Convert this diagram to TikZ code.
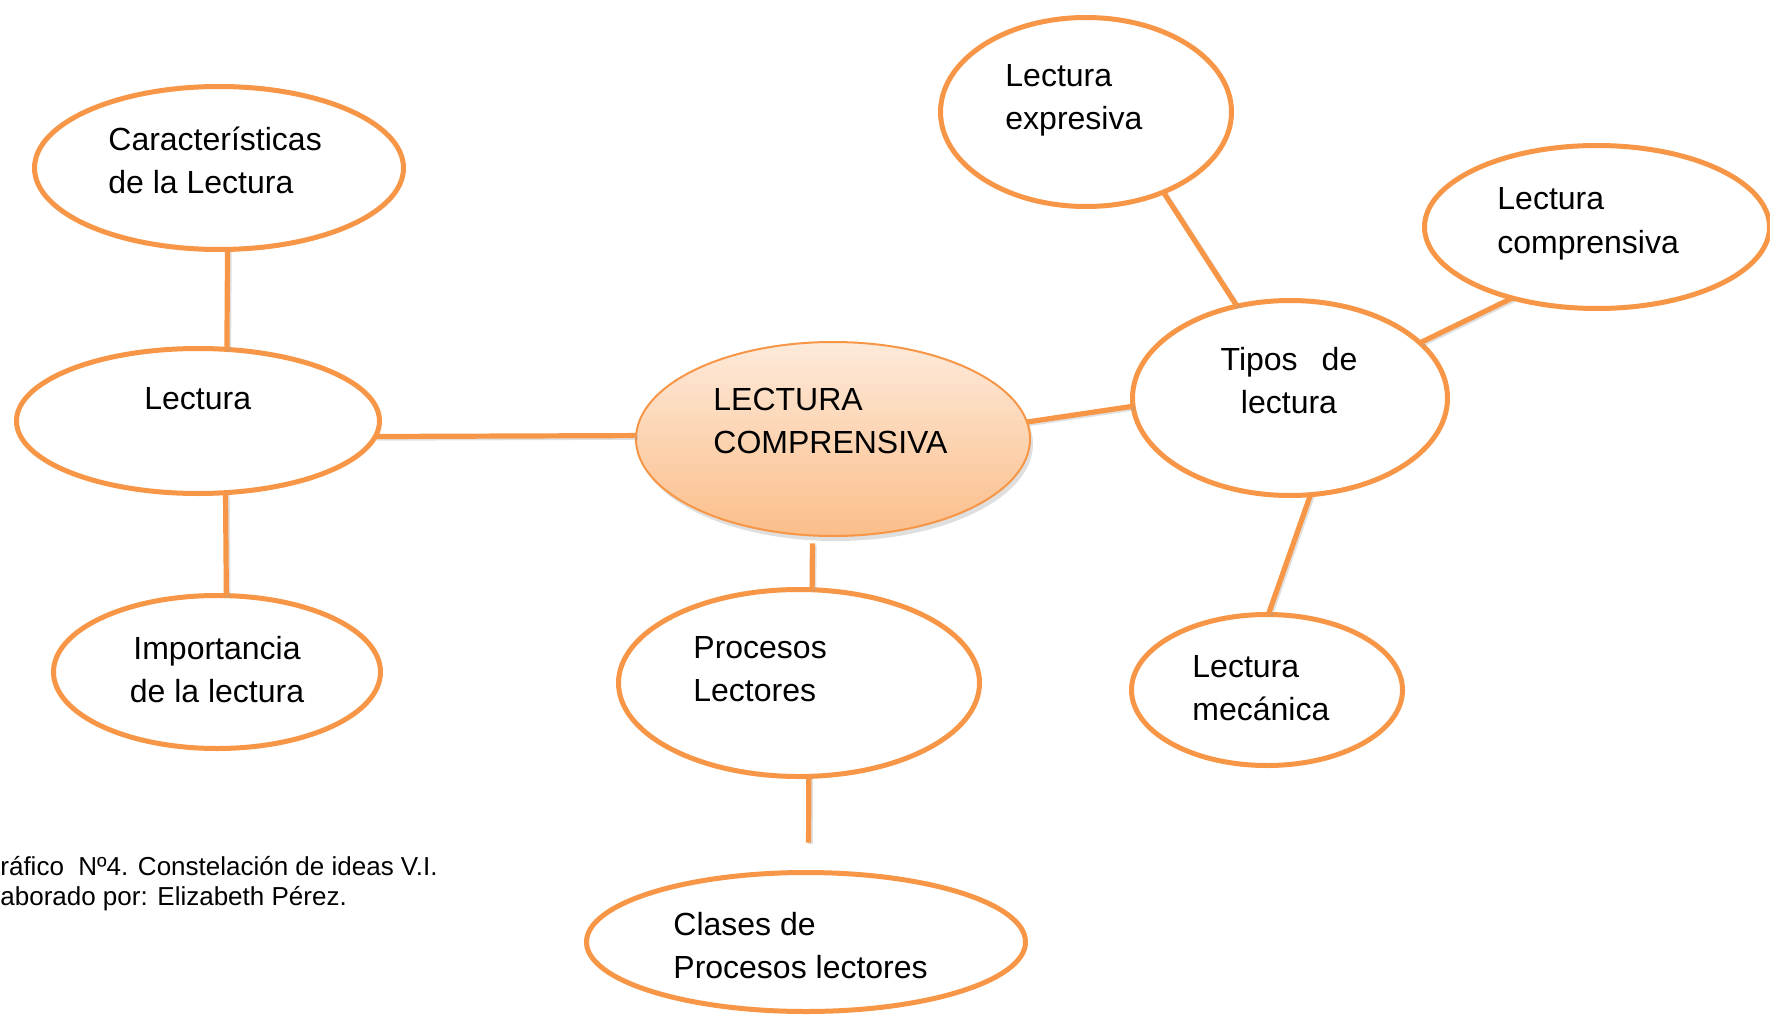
\documentclass[tikz,border=0pt]{standalone}
\usepackage{fontspec}
\setmainfont{Liberation Sans}
\usetikzlibrary{shapes.geometric,shadows}
\definecolor{orng}{HTML}{F79646}
\definecolor{peachtop}{HTML}{FDEADA}
\definecolor{peachbot}{HTML}{FBBE8A}
\begin{document}
\begin{tikzpicture}[x=0.5pt,y=-0.5pt,
  oval/.style={ellipse, draw=orng, line width=2.5pt, fill=white, inner sep=0pt, outer sep=0pt},
  link/.style={draw=orng, line width=2.6pt,
    preaction={draw=black!40, opacity=0.3, line width=2.6pt, transform canvas={shift={(0.8pt,-0.8pt)}}}},
  lbl/.style={inner sep=0pt, font=\fontsize{16}{21.5}\selectfont, align=left, anchor=base west},
  lblc/.style={inner sep=0pt, font=\fontsize{16}{21.5}\selectfont, align=center, anchor=base},
  captxt/.style={inner sep=0pt, font=\fontsize{13}{15}\selectfont, align=left, anchor=base west}]
\useasboundingbox (0,0) rectangle (1770,1016);

% ellipses
\node[oval, minimum width=184.5pt, minimum height=81.5pt] (car) at (219,168) {};
\node[oval, minimum width=181.5pt, minimum height=72.5pt] (lec) at (198,421) {};
\node[oval, minimum width=163.5pt, minimum height=76.5pt] (imp) at (217,672) {};
\node[ellipse, draw=orng, line width=1pt, inner sep=0pt, outer sep=0pt,
      top color=peachtop, bottom color=peachbot,
      drop shadow={opacity=0.25, shadow xshift=1.5pt, shadow yshift=-2.5pt},
      minimum width=197pt, minimum height=97pt] (cen) at (833,439) {};
\node[oval, minimum width=180.5pt, minimum height=93.5pt] (proc) at (799,683) {};
\node[oval, minimum width=219.5pt, minimum height=69.5pt] (clas) at (806,942) {};
\node[oval, minimum width=145.5pt, minimum height=94.5pt] (expr) at (1086,112) {};
\node[oval, minimum width=172.5pt, minimum height=81.5pt] (comp) at (1597,227) {};
\node[oval, minimum width=157.5pt, minimum height=97.5pt] (tip) at (1290,398) {};
\node[oval, minimum width=135.5pt, minimum height=75.5pt] (mec) at (1267,690) {};

% connectors
\path[link] (car.-84.6) -- (lec.68.9);
\path[link] (lec.-69.5) -- (imp.83.5);
\path[link] (lec.-5.1) -- (cen.179.4);
\path[link, shorten <=4pt] (cen.-102.1) -- (proc.82.3);
\path[link, shorten >=15pt] (proc.-84.6) -- (clas.88.4);
\path[link] (cen.5.45) -- (tip.183.6);
\path[link] (tip.120.3) -- (expr.-46.1);
\path[link] (tip.23.25) -- (comp.-140);
\path[link] (tip.-78.1) -- (mec.89.3);

% texts (base anchor = baseline of the last line)
\node[lbl] (tcar) at (108,194) {Características\\de la Lectura};
\node[lbl] (tlec) at (144,409) {Lectura};
\node[lblc] (timp) at (217,702) {Importancia\\de la lectura};
\node[lbl] (tcen) at (713,453) {LECTURA\\COMPRENSIVA};
\node[lbl] (tproc) at (693,701) {Procesos\\Lectores};
\node[lbl] (tclas) at (673,978) {Clases de\\Procesos lectores};
\node[lbl] (texpr) at (1005,130) {Lectura\\expresiva};
\node[lbl] (tcomp) at (1497,253) {Lectura\\comprensiva};
\node[lblc] (ttip) at (1289,413) {Tipos\hspace{12pt}de\\lectura};
\node[lbl] (tmec) at (1192,720) {Lectura\\mecánica};
\node[captxt] (capt) at (0,905) {ráfico\ \ Nº4. Constelación de ideas V.I.\\aborado por: Elizabeth Pérez.};
\end{tikzpicture}
\end{document}
